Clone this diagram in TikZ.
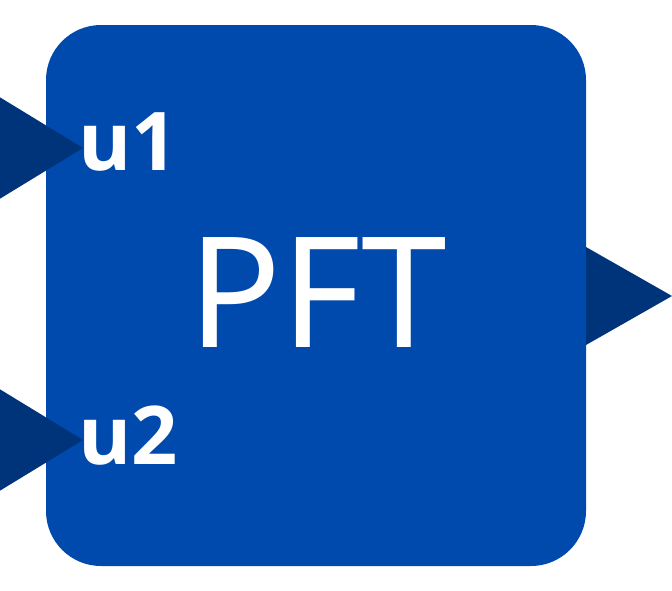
\documentclass[tikz,border=0pt]{standalone}
\usepackage{fontspec}
\setmainfont{Noto Sans}
\newfontfamily\portfont{Open Sans}
\usetikzlibrary{positioning,calc}
\definecolor{blockblue}{RGB}{0,74,173}
\definecolor{portblue}{RGB}{0,52,122}

\begin{document}
\begin{tikzpicture}[x=1pt, y=-1pt,
    block/.style={fill=blockblue, rounded corners=55pt, minimum width=540pt, minimum height=541pt, inner sep=0pt},
    portlabel/.style={text=white, font=\fontsize{81}{81}\selectfont\portfont\bfseries, inner sep=0pt, anchor=base west},
    port/.style={fill=portblue}]
\useasboundingbox (0,0) rectangle (672,590);
% block
\node[block] (pft) at (316,295.5) {};
% input and output ports
\fill[port] (-12,90) -- (83,148) -- (-12,206) -- cycle;
\fill[port] (-12,382) -- (83,440) -- (-12,498) -- cycle;
\fill[port] (586,247) -- (672,296) -- (586,345) -- cycle;
% labels
\node[text=white, font=\fontsize{154}{154}\selectfont, inner sep=0pt] (name) at (318,293) {PFT};
\node[portlabel] (u1) at (78,170) {u1};
\node[portlabel] (u2) at (78,464) {u2};
\end{tikzpicture}
\end{document}
